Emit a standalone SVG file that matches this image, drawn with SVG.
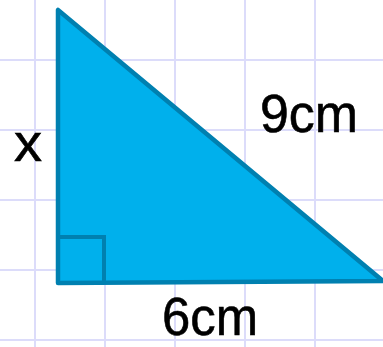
<svg xmlns="http://www.w3.org/2000/svg" width="383" height="347" viewBox="0 0 383 347">
<style>
.grid line{stroke:#dcdcfa;stroke-width:2}
.lbl{font-family:"Comic Sans MS","Liberation Sans",sans-serif;font-size:54px;fill:#000;stroke:#000;stroke-width:0.6}
</style>
<rect width="383" height="347" fill="#fff"/>
<g class="grid">
<line x1="35" y1="0" x2="35" y2="347"/><line x1="105" y1="0" x2="105" y2="347"/><line x1="175" y1="0" x2="175" y2="347"/><line x1="245" y1="0" x2="245" y2="347"/><line x1="315" y1="0" x2="315" y2="347"/>
<line x1="0" y1="60" x2="383" y2="60"/><line x1="0" y1="130" x2="383" y2="130"/><line x1="0" y1="200" x2="383" y2="200"/><line x1="0" y1="270" x2="383" y2="270"/><line x1="0" y1="340" x2="383" y2="340"/>
</g>
<g id="triangle">
<polygon points="58,10 58,283 383,281" fill="#00b0ec" stroke="#0080b0" stroke-width="4.5" stroke-linejoin="round"/>
<polyline points="58,237 104,237 104,283" fill="none" stroke="#0080b0" stroke-width="4"/>
</g>
<g id="labels">
<text class="lbl" x="14" y="161" textLength="28" lengthAdjust="spacingAndGlyphs">x</text>
<text class="lbl" x="260" y="132" textLength="98" lengthAdjust="spacingAndGlyphs">9cm</text>
<text class="lbl" x="162" y="335" textLength="96" lengthAdjust="spacingAndGlyphs">6cm</text>
</g>
</svg>
